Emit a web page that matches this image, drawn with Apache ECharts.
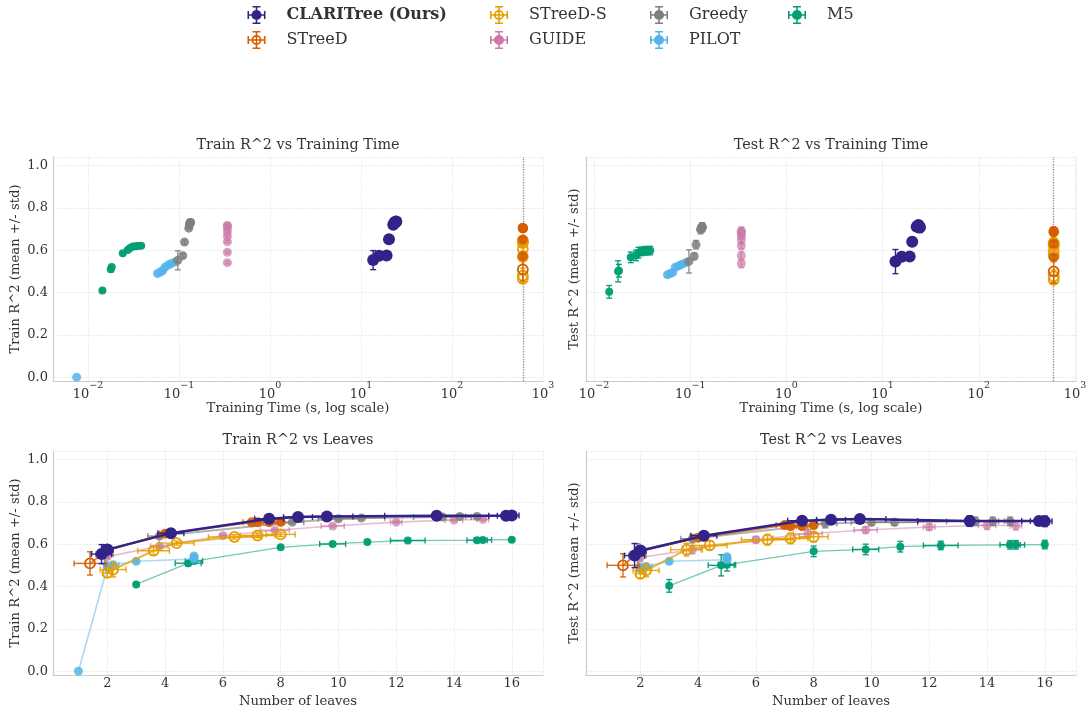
<!DOCTYPE html>
<html lang="en">
<head>
<meta charset="UTF-8">
<title>R^2 vs training time and leaves</title>
<script src="https://cdn.jsdelivr.net/npm/echarts@6.0.0/dist/echarts.min.js"></script>
<style>
  html, body { margin: 0; padding: 0; background: #fff; }
  #chart { width: 1090px; height: 712px; }
</style>
</head>
<body>
<div id="chart"></div>
<script>
// ---- values (mean and std per configuration) ----
const timeLimit = 600;

// CLARITree (Ours)
const clariTime = [13.6, 15.8, 19.1, 20.3, 22.6, 23.2, 23.6, 24.0, 24.2, 24.4];
const clariLeaves = [1.8, 2.0, 2.0, 4.2, 7.6, 8.6, 9.6, 13.4, 15.8, 16.0];
const clariLeavesStd = [0.35, 0.2, 0.1, 0.45, 0.5, 0.5, 0.9, 1.8, 0.3, 0.25];
const clariTrain = [0.553, 0.574, 0.575, 0.652, 0.720, 0.728, 0.731, 0.734, 0.734, 0.735];
const clariTrainStd = [0.045, 0.015, 0.01, 0.01, 0.01, 0.01, 0.005, 0.005, 0.005, 0.005];
const clariTest = [0.546, 0.569, 0.570, 0.640, 0.711, 0.715, 0.719, 0.709, 0.709, 0.708];
const clariTestStd = [0.057, 0.02, 0.015, 0.02, 0.01, 0.012, 0.012, 0.025, 0.02, 0.025];

// STreeD
const streedTime = [600, 600, 600, 600, 600, 600, 600];
const streedLeaves = [1.4, 2.0, 4.0, 7.0, 7.2, 7.6, 8.0];
const streedLeavesStd = [0.55, 0.1, 0.2, 0.3, 0.3, 0.2, 0.1];
const streedTrain = [0.509, 0.571, 0.649, 0.703, 0.704, 0.704, 0.705];
const streedTrainStd = [0.055, 0.01, 0.01, 0.008, 0.008, 0.008, 0.008];
const streedTest = [0.500, 0.567, 0.630, 0.690, 0.685, 0.685, 0.690];
const streedTestStd = [0.055, 0.015, 0.015, 0.015, 0.015, 0.015, 0.015];
const streedTimedOut = [1, 0, 0, 0, 0, 0, 0];

// STreeD-S
const streedsTime = [600, 600, 600, 600, 600, 600, 600];
const streedsLeaves = [2.0, 2.2, 3.6, 4.4, 6.4, 7.2, 8.0];
const streedsLeavesStd = [0.15, 0.45, 0.55, 0.6, 0.9, 0.6, 0.5];
const streedsTrain = [0.464, 0.480, 0.569, 0.605, 0.634, 0.641, 0.646];
const streedsTrainStd = [0.02, 0.035, 0.02, 0.01, 0.01, 0.01, 0.01];
const streedsTest = [0.460, 0.476, 0.574, 0.594, 0.621, 0.627, 0.635];
const streedsTestStd = [0.02, 0.03, 0.03, 0.02, 0.025, 0.025, 0.025];

// GUIDE
const guideTime = [0.34, 0.34, 0.34, 0.34, 0.34, 0.34, 0.34, 0.34];
const guideLeaves = [2.0, 3.8, 6.0, 7.8, 9.8, 12.0, 14.0, 15.0];
const guideLeavesStd = [0.05, 0.3, 0.1, 0.5, 0.4, 0.2, 0.3, 0.2];
const guideTrain = [0.541, 0.590, 0.640, 0.666, 0.686, 0.704, 0.714, 0.717];
const guideTrainStd = [0.006, 0.006, 0.005, 0.005, 0.005, 0.005, 0.005, 0.005];
const guideTest = [0.537, 0.574, 0.621, 0.649, 0.667, 0.681, 0.689, 0.687];
const guideTestStd = [0.02, 0.02, 0.015, 0.02, 0.015, 0.015, 0.02, 0.02];

// Greedy
const greedyTime = [0.097, 0.110, 0.115, 0.128, 0.130, 0.131, 0.132, 0.133, 0.134];
const greedyLeaves = [1.9, 2.0, 3.8, 8.4, 10.0, 10.8, 13.6, 14.2, 14.8];
const greedyLeavesStd = [0.3, 0.1, 0.4, 0.4, 0.7, 0.8, 1.0, 0.6, 0.4];
const greedyTrain = [0.552, 0.574, 0.638, 0.704, 0.720, 0.724, 0.728, 0.731, 0.731];
const greedyTrainStd = [0.045, 0.01, 0.01, 0.005, 0.005, 0.005, 0.005, 0.005, 0.005];
const greedyTest = [0.547, 0.571, 0.626, 0.697, 0.703, 0.703, 0.708, 0.708, 0.708];
const greedyTestStd = [0.055, 0.015, 0.02, 0.02, 0.015, 0.015, 0.02, 0.02, 0.02];

// PILOT (first config has no test score on the plotted range)
const pilotTime = [0.0075, 0.058, 0.062, 0.066, 0.070, 0.076, 0.082, 0.090];
const pilotLeaves = [1.0, 2.0, 2.0, 2.2, 3.0, 5.0, 5.0, 5.0];
const pilotLeavesStd = [0, 0, 0, 0.2, 0, 0, 0, 0];
const pilotTrain = [0.000, 0.490, 0.497, 0.503, 0.519, 0.530, 0.537, 0.544];
const pilotTrainStd = [0, 0.005, 0.005, 0.005, 0.005, 0.005, 0.005, 0.005];
const pilotTest = [null, 0.484, 0.490, 0.495, 0.519, 0.526, 0.533, 0.541];
const pilotTestStd = [null, 0.01, 0.01, 0.01, 0.01, 0.01, 0.01, 0.01];

// M5
const m5Time = [0.0144, 0.0178, 0.0182, 0.0241, 0.0273, 0.0290, 0.0310, 0.0335, 0.0352, 0.0384];
const m5Leaves = [3.0, 4.8, 5.0, 8.0, 9.8, 11.0, 12.4, 14.8, 15.0, 16.0];
const m5LeavesStd = [0, 0.45, 0.3, 0, 0.45, 0.05, 0.6, 0.35, 0.3, 0.05];
const m5Train = [0.410, 0.510, 0.520, 0.585, 0.601, 0.610, 0.617, 0.619, 0.620, 0.621];
const m5TrainStd = [0.005, 0.012, 0.005, 0.005, 0.005, 0.005, 0.005, 0.005, 0.005, 0.005];
const m5Test = [0.403, 0.500, 0.503, 0.566, 0.575, 0.588, 0.594, 0.597, 0.597, 0.598];
const m5TestStd = [0.03, 0.05, 0.03, 0.025, 0.025, 0.025, 0.02, 0.02, 0.02, 0.02];

// ---- styling ----
const FONT = 'DejaVu Serif';
const TEXT = '#333333';

// draw order: first is at the bottom
const methods = [
  { name: 'M5', time: m5Time, leaves: m5Leaves, leavesStd: m5LeavesStd, train: m5Train, trainStd: m5TrainStd, test: m5Test, testStd: m5TestStd,
    color: '#009E73', size: 8, alpha: 0.95, lineW: 1.3, lineAlpha: 0.55 },
  { name: 'PILOT', time: pilotTime, leaves: pilotLeaves, leavesStd: pilotLeavesStd, train: pilotTrain, trainStd: pilotTrainStd, test: pilotTest, testStd: pilotTestStd,
    color: '#56B4E9', size: 9, alpha: 0.85, lineW: 1.6, lineAlpha: 0.5 },
  { name: 'GUIDE', time: guideTime, leaves: guideLeaves, leavesStd: guideLeavesStd, train: guideTrain, trainStd: guideTrainStd, test: guideTest, testStd: guideTestStd,
    color: '#CC79A7', size: 9, alpha: 0.7, lineW: 1.6, lineAlpha: 0.5 },
  { name: 'Greedy', time: greedyTime, leaves: greedyLeaves, leavesStd: greedyLeavesStd, train: greedyTrain, trainStd: greedyTrainStd, test: greedyTest, testStd: greedyTestStd,
    color: '#7F7F7F', size: 9, alpha: 0.85, lineW: 2, lineAlpha: 0.6 },
  { name: 'STreeD-S', time: streedsTime, leaves: streedsLeaves, leavesStd: streedsLeavesStd, train: streedsTrain, trainStd: streedsTrainStd, test: streedsTest, testStd: streedsTestStd,
    color: '#E69F00', size: 10, alpha: 0.9, lineW: 2, lineAlpha: 0.75, hollow: true },
  { name: 'STreeD', time: streedTime, leaves: streedLeaves, leavesStd: streedLeavesStd, train: streedTrain, trainStd: streedTrainStd, test: streedTest, testStd: streedTestStd,
    color: '#D55E00', size: 10, alpha: 0.9, lineW: 2, lineAlpha: 0.75, open: streedTimedOut },
  { name: 'CLARITree (Ours)', time: clariTime, leaves: clariLeaves, leavesStd: clariLeavesStd, train: clariTrain, trainStd: clariTrainStd, test: clariTest, testStd: clariTestStd,
    color: '#332288', size: 12, alpha: 1, lineW: 2.5, lineAlpha: 1 }
];

function seg(x1, y1, x2, y2, style) {
  return { type: 'line', shape: { x1: x1, y1: y1, x2: x2, y2: y2 }, style: style };
}

function errSeries(m, gi, pts, withX, z) {
  return {
    name: m.name, type: 'custom', xAxisIndex: gi, yAxisIndex: gi, z: z, silent: true,
    itemStyle: { color: m.color },
    data: pts.map(function (p) { return [p[0], p[1], p[2], p[3]]; }),
    encode: { x: 0, y: 1 },
    renderItem: function (params, api) {
      const x = api.value(0), y = api.value(1), sx = api.value(2), sy = api.value(3);
      const c = api.coord([x, y]);
      const style = { stroke: m.color, lineWidth: 1.4, opacity: m.alpha, fill: null };
      const cap = 3;
      const kids = [];
      if (sy > 0) {
        const lo = api.coord([x, y - sy])[1], hi = api.coord([x, y + sy])[1];
        kids.push(seg(c[0], lo, c[0], hi, style));
        kids.push(seg(c[0] - cap, lo, c[0] + cap, lo, style));
        kids.push(seg(c[0] - cap, hi, c[0] + cap, hi, style));
      }
      if (withX && sx > 0) {
        const l = api.coord([x - sx, y])[0], r = api.coord([x + sx, y])[0];
        kids.push(seg(l, c[1], r, c[1], style));
        kids.push(seg(l, c[1] - cap, l, c[1] + cap, style));
        kids.push(seg(r, c[1] - cap, r, c[1] + cap, style));
      }
      return { type: 'group', children: kids };
    }
  };
}

function markSeries(m, gi, pts, isLine, z) {
  const data = pts.map(function (p) {
    const item = { value: [p[0], p[1]] };
    if (m.hollow || (m.open && m.open[p[4]])) {
      item.itemStyle = { color: 'rgba(255,255,255,0)', borderColor: m.color, borderWidth: 1.8, opacity: 1 };
    }
    return item;
  });
  const s = {
    name: m.name, type: isLine ? 'line' : 'scatter', xAxisIndex: gi, yAxisIndex: gi, z: z,
    data: data, symbol: 'circle', symbolSize: m.size, silent: true,
    itemStyle: { color: m.color, opacity: m.alpha },
    emphasis: { disabled: true }
  };
  if (isLine) {
    s.showSymbol = true;
    s.showAllSymbol = true;
    s.lineStyle = { color: m.color, width: m.lineW, opacity: m.lineAlpha };
  }
  return s;
}

const series = [];
methods.forEach(function (m, k) {
  const z = 2 + k;
  [[0, m.train, m.trainStd], [1, m.test, m.testStd]].forEach(function (cfg) {
    const top = [], bottom = [];
    m.time.forEach(function (t, i) {
      const v = cfg[1][i];
      if (v == null) return;
      top.push([t, v, 0, cfg[2][i], i]);
      bottom.push([m.leaves[i], v, m.leavesStd[i], cfg[2][i], i]);
    });
    series.push(errSeries(m, cfg[0], top, false, z));
    series.push(markSeries(m, cfg[0], top, false, z));
    series.push(errSeries(m, cfg[0] + 2, bottom, true, z));
    series.push(markSeries(m, cfg[0] + 2, bottom, true, z));
  });
});

// time-limit marker on the two timing panels
[0, 1].forEach(function (gi) {
  series.push({
    type: 'scatter', xAxisIndex: gi, yAxisIndex: gi, data: [], silent: true, z: 1,
    markLine: {
      silent: true, symbol: 'none', label: { show: false },
      lineStyle: { color: '#8a8a8a', type: 'dotted', width: 1.3 },
      data: [{ xAxis: timeLimit }]
    }
  });
});

// ---- axes ----
function logLabel(v) {
  const e = Math.log10(v), r = Math.round(e);
  if (Math.abs(e - r) > 1e-6) return '';
  return '{b|10}{e|' + String(r).replace('-', '\u2212') + '}';
}
function yLabel(v) {
  return Math.abs(v * 5 - Math.round(v * 5)) < 1e-6 ? v.toFixed(1) : '';
}
function leafLabel(v) {
  return Math.abs(v - Math.round(v)) < 1e-6 ? String(Math.round(v)) : '';
}

const axisLineStyle = { show: true, onZero: false, lineStyle: { color: '#cccccc', width: 1.2 } };
const gridLineStyle = { show: true, lineStyle: { color: '#e3e3e3', type: 'dotted', width: 0.9 } };
const nameStyle = { fontFamily: FONT, fontSize: 13.2, color: TEXT };
const tickStyle = { fontFamily: FONT, fontSize: 13, color: TEXT };
const supRich = {
  b: { fontFamily: FONT, fontSize: 13, color: TEXT, lineHeight: 20, verticalAlign: 'bottom' },
  e: { fontFamily: FONT, fontSize: 9.5, color: TEXT, lineHeight: 11, verticalAlign: 'top' }
};

function xAxisOpt(gi, type, min, max, name, fmt) {
  const isLog = type === 'log';
  return {
    type: type, gridIndex: gi, min: min, max: max, splitNumber: isLog ? 5 : 8,
    name: name, nameLocation: 'middle', nameGap: 20, nameTextStyle: nameStyle,
    axisLine: axisLineStyle, axisTick: { show: false },
    axisLabel: Object.assign({ margin: isLog ? 0 : 2, formatter: fmt, showMinLabel: false, showMaxLabel: isLog,
      rich: isLog ? supRich : undefined }, tickStyle),
    splitLine: gridLineStyle
  };
}
function yAxisOpt(gi, name, showLabels) {
  return {
    type: 'value', gridIndex: gi, min: -0.018, max: 1.04, splitNumber: 5,
    name: name, nameLocation: 'middle', nameGap: showLabels ? 31 : 5, nameTextStyle: nameStyle,
    axisLine: axisLineStyle, axisTick: { show: false },
    axisLabel: Object.assign({ show: showLabels, margin: 5, formatter: yLabel, showMinLabel: false, showMaxLabel: false }, tickStyle),
    splitLine: gridLineStyle
  };
}

// ---- legend ----
const ICON_FILLED = 'path://M2,9.3H18V10.7H2Z M9.3,2H10.7V18H9.3Z M2,6.5H3.4V13.5H2Z M16.6,6.5H18V13.5H16.6Z ' +
  'M6.5,2H13.5V3.4H6.5Z M6.5,16.6H13.5V18H6.5Z M14.5,10A4.5,4.5,0,1,1,5.5,10A4.5,4.5,0,1,1,14.5,10Z';
const ICON_OPEN = ICON_FILLED + ' M12.9,10A2.9,2.9,0,1,0,7.1,10A2.9,2.9,0,1,0,12.9,10Z';

function legendCol(left, names) {
  return {
    left: left, top: 6, orient: 'vertical', padding: 0,
    itemWidth: 18, itemHeight: 18, itemGap: 7, selectedMode: false,
    textStyle: {
      fontFamily: FONT, fontSize: 16, color: TEXT, lineHeight: 18,
      rich: {
        g: { width: 16, fontSize: 16, fontFamily: FONT },
        t: { fontSize: 16, fontFamily: FONT, color: TEXT },
        b: { fontSize: 16, fontFamily: FONT, color: TEXT, fontWeight: 'bold' }
      }
    },
    formatter: function (n) {
      return '{g|\u00a0}' + (n === 'CLARITree (Ours)' ? '{b|' + n + '}' : '{t|' + n + '}');
    },
    data: names.map(function (n) {
      return { name: n, icon: (n === 'STreeD' || n === 'STreeD-S') ? ICON_OPEN : ICON_FILLED };
    })
  };
}

function panelTitle(text, cx, cy) {
  return {
    type: 'text', x: cx, y: cy, silent: true,
    style: { text: text, fontFamily: FONT, fontSize: 14.4, fill: TEXT, align: 'center', verticalAlign: 'middle' }
  };
}

const chart = echarts.init(document.getElementById('chart'), null, { renderer: 'canvas' });
chart.setOption({
  animation: false,
  backgroundColor: '#ffffff',
  legend: [
    legendCol(247.5, ['CLARITree (Ours)', 'STreeD']),
    legendCol(490, ['STreeD-S', 'GUIDE']),
    legendCol(650, ['Greedy', 'PILOT']),
    legendCol(788, ['M5'])
  ],
  graphic: [
    panelTitle('Train R^2 vs Training Time', 298, 145),
    panelTitle('Test R^2 vs Training Time', 831, 145),
    panelTitle('Train R^2 vs Leaves', 298, 440),
    panelTitle('Test R^2 vs Leaves', 831, 440)
  ],
  grid: [
    { left: 53, top: 157, width: 490, height: 224 },
    { left: 586, top: 157, width: 490, height: 224 },
    { left: 53, top: 451, width: 490, height: 224 },
    { left: 586, top: 451, width: 490, height: 224 }
  ],
  xAxis: [
    xAxisOpt(0, 'log', Math.pow(10, -2.385), 1000, 'Training Time (s, log scale)', logLabel),
    xAxisOpt(1, 'log', Math.pow(10, -2.083), Math.pow(10, 3.01), 'Training Time (s, log scale)', logLabel),
    xAxisOpt(2, 'value', 0.12, 17.08, 'Number of leaves', leafLabel),
    xAxisOpt(3, 'value', 0.12, 17.08, 'Number of leaves', leafLabel)
  ],
  yAxis: [
    yAxisOpt(0, 'Train R^2 (mean +/- std)', true),
    yAxisOpt(1, 'Test R^2 (mean +/- std)', false),
    yAxisOpt(2, 'Train R^2 (mean +/- std)', true),
    yAxisOpt(3, 'Test R^2 (mean +/- std)', false)
  ],
  series: series
});
</script>
</body>
</html>
